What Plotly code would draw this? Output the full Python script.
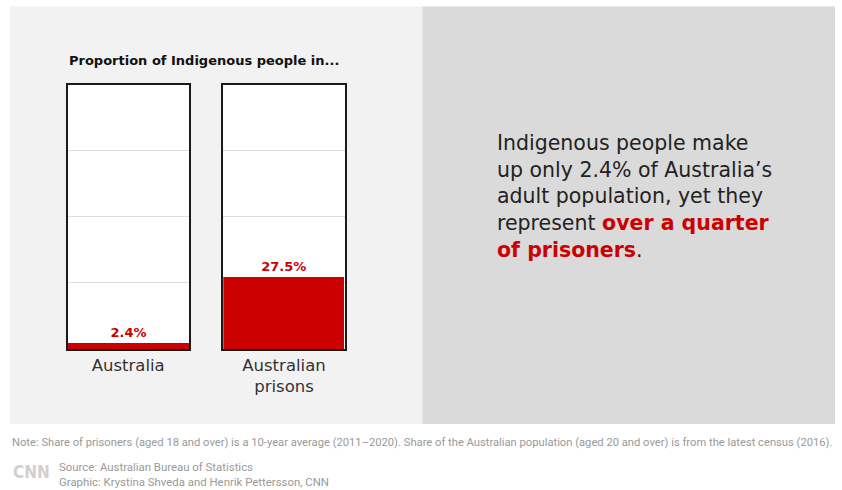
import plotly.graph_objects as go

# ---- data ----
categories = ["Australia", "Australian<br>prisons"]
shares = [2.4, 27.5]
y_ticks = [0, 25, 50, 75, 100]

W, H = 842, 490
def px(x):
    return x / W
def py(y):
    return 1 - y / H

RED = "#cc0000"
MAIN = "DejaVu Sans, Liberation Sans, sans-serif"
SMALL = "Roboto, Liberation Sans, sans-serif"
fig = go.Figure()

axes = [("x", "y"), ("x2", "y2")]
for i, (cat, val) in enumerate(zip(categories, shares)):
    xa, ya = axes[i]
    fig.add_trace(go.Bar(
        x=[cat], y=[val], xaxis=xa, yaxis=ya,
        marker=dict(color=RED, line=dict(width=0)),
        width=1,
        texttemplate="<b>%{y}%</b>", textposition="outside",
        textfont=dict(color=RED, size=13, family=MAIN),
        cliponaxis=False, showlegend=False, hoverinfo="skip",
    ))

box_y = [py(349), py(84.5)]
common_y = dict(range=[0, 100], tickvals=y_ticks, showticklabels=False, showgrid=True,
                gridcolor="#dedede", gridwidth=1, zeroline=False,
                showline=True, linecolor="#1a1a1a", linewidth=2, mirror=True,
                domain=box_y, fixedrange=True)
common_x = dict(showline=True, linecolor="#1a1a1a", linewidth=2, mirror=True,
                ticks="", tickfont=dict(size=16.5, color="#333333", family=MAIN),
                showgrid=False, zeroline=False, fixedrange=True)

fig.update_layout(
    width=W, height=H,
    margin=dict(l=0, r=0, t=0, b=0),
    paper_bgcolor="#f2f2f2",
    plot_bgcolor="#ffffff",
    bargap=0,
    xaxis=dict(domain=[px(67.5), px(189)], anchor="y", **common_x),
    yaxis=dict(anchor="x", **common_y),
    xaxis2=dict(domain=[px(223.3), px(344.7)], anchor="y2", **common_x),
    yaxis2=dict(anchor="x2", **common_y),
    font=dict(family=MAIN),
)

# background panels (white frame + dark right panel)
shapes = [
    dict(x0=0, x1=1, y0=py(0), y1=py(6.5), fillcolor="#ffffff"),
    dict(x0=0, x1=px(10), y0=0, y1=1, fillcolor="#ffffff"),
    dict(x0=px(835), x1=1, y0=0, y1=1, fillcolor="#ffffff"),
    dict(x0=0, x1=1, y0=0, y1=py(424), fillcolor="#ffffff"),
    dict(x0=px(422.5), x1=px(835), y0=py(424), y1=py(6.5), fillcolor="#dadada"),
]
for s in shapes:
    s.update(type="rect", xref="paper", yref="paper", layer="below", line=dict(width=0))
fig.update_layout(shapes=shapes)

ann = []
ann.append(dict(text="<b>Proportion of Indigenous people in...</b>", x=px(67), y=py(60),
                xanchor="left", yanchor="middle",
                font=dict(size=13, color="#111111", family=MAIN)))
ann.append(dict(
    text=("Indigenous people make<br>up only 2.4% of Australia’s<br>adult population, yet they<br>"
          f"represent <b><span style='color:{RED}'>over a quarter</span></b><br>"
          f"<b><span style='color:{RED}'>of prisoners</span></b>."),
    x=px(495), y=py(197), xanchor="left", yanchor="middle", align="left",
    font=dict(size=20.5, color="#222222", family=MAIN)))
ann.append(dict(
    text=("Note: Share of prisoners (aged 18 and over) is a 10-year average (2011–2020). "
          "Share of the Australian population (aged 20 and over) is from the latest census (2016)."),
    x=px(10), y=py(442), xanchor="left", yanchor="middle",
    font=dict(size=11.2, color="#999999", family=SMALL)))
ann.append(dict(text="Source: Australian Bureau of Statistics<br>Graphic: Krystina Shveda and Henrik Pettersson, CNN",
                x=px(57), y=py(474), xanchor="left", yanchor="middle", align="left",
                font=dict(size=11.4, color="#999999", family=SMALL)))
ann.append(dict(text="<b>CNN</b>", x=px(11), y=py(471.5), xanchor="left", yanchor="middle",
                font=dict(size=17, color="#d0d0d0", family="DejaVu Sans Condensed, Roboto, sans-serif")))
for a in ann:
    a.update(xref="paper", yref="paper", showarrow=False)
fig.update_layout(annotations=ann)

fig.write_html("out.html", config={"displayModeBar": False},
               post_script="document.body.style.margin='0';document.body.style.overflow='hidden';")
